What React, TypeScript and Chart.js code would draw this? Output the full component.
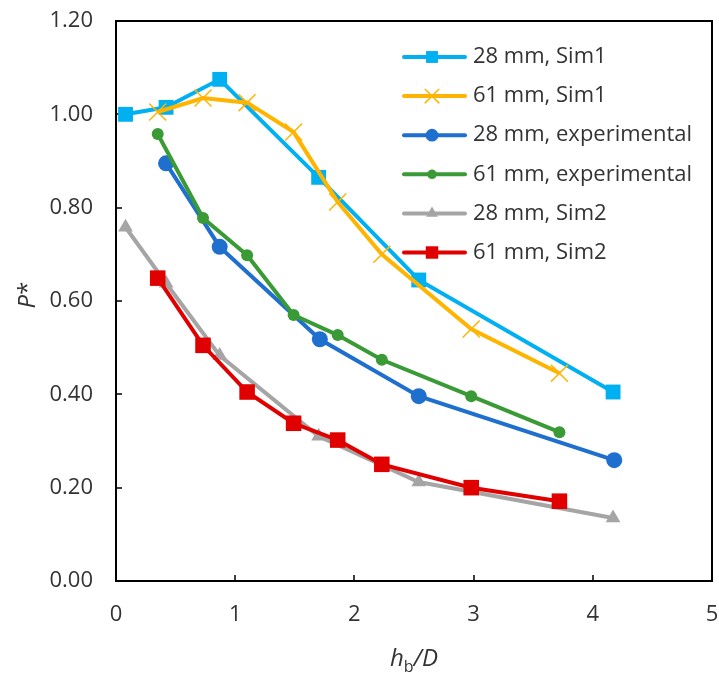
import React, { useEffect, useRef } from 'react';
import { Chart, registerables } from 'chart.js';
import { drawPoint } from 'chart.js/helpers';

Chart.register(...registerables);

// Series labels
const seriesNames = [
  '28 mm, Sim1',
  '61 mm, Sim1',
  '28 mm, experimental',
  '61 mm, experimental',
  '28 mm, Sim2',
  '61 mm, Sim2',
];

// h_b/D positions
const xSim28 = [0.08, 0.42, 0.87, 1.70, 2.54, 4.17];
const xSim61 = [0.35, 0.73, 1.10, 1.49, 1.86, 2.23, 2.98, 3.72];
const xExp28 = [0.42, 0.87, 1.71, 2.54, 4.18];
const xExp61 = [0.35, 0.73, 1.10, 1.49, 1.86, 2.23, 2.98, 3.72];

// P* values
const pSim1_28 = [1.0, 1.015, 1.075, 0.865, 0.645, 0.405];
const pSim1_61 = [1.005, 1.035, 1.025, 0.962, 0.812, 0.7, 0.54, 0.445];
const pExp28 = [0.895, 0.716, 0.518, 0.396, 0.259];
const pExp61 = [0.958, 0.778, 0.698, 0.57, 0.527, 0.474, 0.396, 0.319];
const pSim2_28 = [0.758, 0.638, 0.483, 0.31, 0.212, 0.135];
const pSim2_61 = [0.649, 0.505, 0.405, 0.338, 0.302, 0.25, 0.2, 0.171];

// Axis ticks
const xTicks = [0, 1, 2, 3, 4, 5];
const yTicks = [0, 0.2, 0.4, 0.6, 0.8, 1.0, 1.2];

const FONT = '"Open Sans", "DejaVu Sans", sans-serif';
const TEXT = '#333333';

type Style = {
  color: string;
  pointStyle: string;
  radius: number;
  pointBorderWidth: number;
};

const styles: Style[] = [
  { color: '#00B0F0', pointStyle: 'rect', radius: 10.5, pointBorderWidth: 0 },
  { color: '#FFB400', pointStyle: 'crossRot', radius: 12, pointBorderWidth: 1.5 },
  { color: '#1F6FCF', pointStyle: 'circle', radius: 8, pointBorderWidth: 0 },
  { color: '#3A9A36', pointStyle: 'circle', radius: 6, pointBorderWidth: 0 },
  { color: '#A5A5A5', pointStyle: 'triangle', radius: 8.5, pointBorderWidth: 0 },
  { color: '#E00000', pointStyle: 'rect', radius: 11, pointBorderWidth: 0 },
];

const seriesX = [xSim28, xSim61, xExp28, xExp61, xSim28, xSim61];
const seriesY = [pSim1_28, pSim1_61, pExp28, pExp61, pSim2_28, pSim2_61];

// Box around the plot area plus inward tick marks
const framePlugin = {
  id: 'frame',
  beforeDatasetsDraw(chart: any) {
    const { ctx, chartArea: a, scales } = chart;
    ctx.save();
    ctx.strokeStyle = '#000';
    ctx.lineWidth = 2;
    ctx.strokeRect(a.left, a.top, a.right - a.left, a.bottom - a.top);
    ctx.lineWidth = 1.5;
    ctx.beginPath();
    xTicks.slice(1, -1).forEach((v) => {
      const px = Math.round(scales.x.getPixelForValue(v));
      ctx.moveTo(px, a.bottom);
      ctx.lineTo(px, a.bottom - 6);
    });
    yTicks.slice(1, -1).forEach((v) => {
      const py = Math.round(scales.y.getPixelForValue(v));
      ctx.moveTo(a.left, py);
      ctx.lineTo(a.left + 6, py);
    });
    ctx.stroke();
    ctx.restore();
  },
};

// Axis titles with subscript text
const titlePlugin = {
  id: 'titles',
  afterDraw(chart: any) {
    const { ctx, chartArea: a } = chart;
    ctx.save();
    ctx.fillStyle = TEXT;
    ctx.textBaseline = 'alphabetic';
    ctx.textAlign = 'left';
    const big = `italic 24px ${FONT}`;
    const sub = `16px ${FONT}`;
    ctx.font = big;
    const wh = ctx.measureText('h').width;
    const wd = ctx.measureText('/D').width;
    ctx.font = sub;
    const wb = ctx.measureText('b').width;
    const cx = (a.left + a.right) / 2;
    const base = 666;
    const x0 = cx - (wh + wb + wd) / 2;
    ctx.font = big;
    ctx.fillText('h', x0, base);
    ctx.font = sub;
    ctx.fillText('b', x0 + wh, base + 6);
    ctx.font = big;
    ctx.fillText('/D', x0 + wh + wb, base);

    ctx.translate(28, 295);
    ctx.rotate(-Math.PI / 2);
    ctx.textBaseline = 'middle';
    ctx.font = big;
    const wp = ctx.measureText('P').width;
    ctx.font = `24px ${FONT}`;
    const ws = ctx.measureText('*').width;
    const sx = -(wp + ws) / 2;
    ctx.font = big;
    ctx.fillText('P', sx, 0);
    ctx.font = `24px ${FONT}`;
    ctx.fillText('*', sx + wp, 0);
    ctx.restore();
  },
};

// Legend inside the plot area, top right
const legendPlugin = {
  id: 'insideLegend',
  afterDraw(chart: any) {
    const { ctx } = chart;
    ctx.save();
    ctx.font = `22px ${FONT}`;
    ctx.textBaseline = 'middle';
    ctx.textAlign = 'left';
    seriesNames.forEach((name, i) => {
      const s = styles[i];
      const y = 57 + i * 39.1;
      ctx.strokeStyle = s.color;
      ctx.lineWidth = 4;
      ctx.lineCap = 'round';
      ctx.beginPath();
      ctx.moveTo(404, y);
      ctx.lineTo(465, y);
      ctx.stroke();
      ctx.fillStyle = s.color;
      ctx.strokeStyle = s.color;
      ctx.lineWidth = s.pointBorderWidth;
      drawPoint(
        ctx,
        {
          pointStyle: s.pointStyle,
          radius: s.radius * 0.8,
          rotation: 0,
          borderWidth: s.pointBorderWidth,
        } as any,
        432,
        y
      );
      ctx.fillStyle = TEXT;
      ctx.fillText(name, 473, y);
    });
    ctx.restore();
  },
};

const zeroPadding = (scale: any) => {
  scale.paddingTop = 0;
  scale.paddingBottom = 0;
  scale.paddingLeft = 0;
  scale.paddingRight = 0;
};

export default function App() {
  const ref = useRef<HTMLCanvasElement | null>(null);

  useEffect(() => {
    if (!ref.current) return;
    const datasets = seriesNames.map((name, i) => ({
      label: name,
      data: seriesX[i].map((x, j) => ({ x, y: seriesY[i][j] })),
      borderColor: styles[i].color,
      backgroundColor: styles[i].color,
      borderWidth: 4,
      pointStyle: styles[i].pointStyle,
      pointRadius: styles[i].radius,
      pointBackgroundColor: styles[i].color,
      pointBorderColor: styles[i].color,
      pointBorderWidth: styles[i].pointBorderWidth,
      tension: 0,
      clip: false,
      order: seriesNames.length - i,
    }));

    const chart = new Chart(ref.current, {
      type: 'line',
      data: { datasets },
      options: {
        responsive: false,
        animation: false,
        devicePixelRatio: 1,
        layout: { autoPadding: false, padding: { top: 21, right: 7, left: 0, bottom: 0 } },
        plugins: {
          legend: { display: false },
          tooltip: { enabled: false },
        },
        scales: {
          x: {
            type: 'linear',
            min: 0,
            max: 5,
            afterBuildTicks: (scale: any) => {
              scale.ticks = xTicks.map((v) => ({ value: v }));
            },
            afterFit: (scale: any) => {
              scale.height = 94;
              zeroPadding(scale);
            },
            grid: { display: false, drawTicks: false },
            border: { display: false },
            ticks: {
              padding: 21,
              color: TEXT,
              font: { family: FONT, size: 22 },
              maxRotation: 0,
              callback: (v: any) => String(v),
            },
          },
          y: {
            type: 'linear',
            min: 0,
            max: 1.2,
            afterBuildTicks: (scale: any) => {
              scale.ticks = yTicks.map((v) => ({ value: v }));
            },
            afterFit: (scale: any) => {
              scale.width = 116;
              zeroPadding(scale);
            },
            grid: { display: false, drawTicks: false },
            border: { display: false },
            ticks: {
              padding: 23,
              color: TEXT,
              font: { family: FONT, size: 22 },
              callback: (v: any) => Number(v).toFixed(2),
            },
          },
        },
      },
      plugins: [framePlugin, titlePlugin, legendPlugin],
    } as any);

    return () => chart.destroy();
  }, []);

  return (
    <div style={{ position: 'fixed', left: 0, top: 0, width: 719, height: 675, background: '#fff' }}>
      <canvas ref={ref} width={719} height={675} style={{ display: 'block' }} />
    </div>
  );
}
